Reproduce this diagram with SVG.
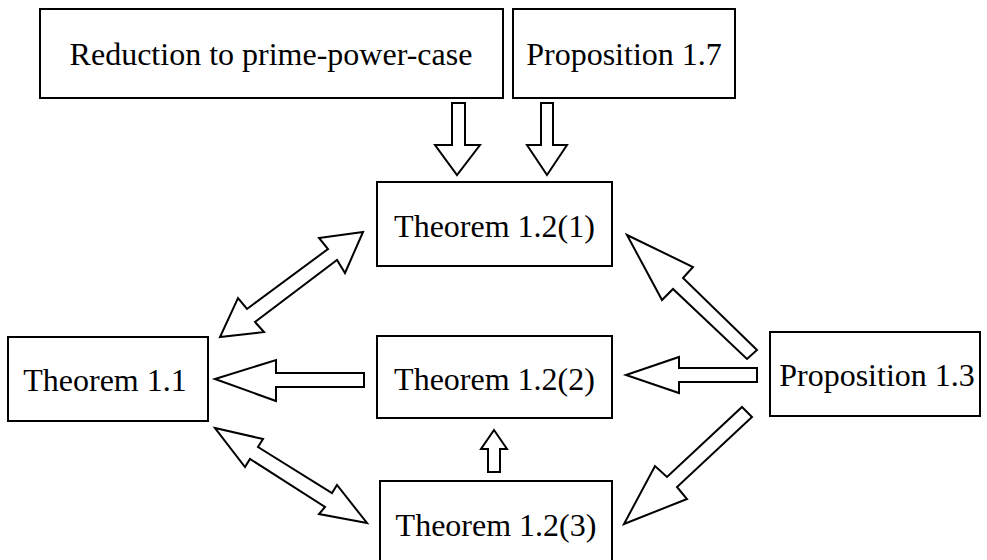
<svg xmlns="http://www.w3.org/2000/svg" width="987" height="560" viewBox="0 0 987 560">
<style>
.box{fill:#fff;stroke:#000;stroke-width:2}
.lbl{font-family:"Liberation Serif","DejaVu Serif",serif;font-size:32px;fill:#000;text-anchor:middle}
.arr{fill:#fff;stroke:#000;stroke-width:2;stroke-linejoin:miter}
</style>
<rect width="987" height="560" fill="#fff"/>
<g id="connectors">
<polygon class="arr" points="452,103 465,103 465,145 480,145 457,175 435,145 452,145"/>
<polygon class="arr" points="541,103 553,103 553,145 567,145 547,175 527,145 541,145"/>
<polygon class="arr" points="363,232 345,273 337,260 255,322 264,332 220,337 238,298 247,309 328,249 319,238"/>
<polygon class="arr" points="215,379 276,360 276,373 364,373 364,387 276,387 276,401"/>
<polygon class="arr" points="215,428 263,439 258,447 332,493 337,485 367,523 319,514 325,507 250,459 245,467"/>
<polygon class="arr" points="627,235 693,267 683,278 757,350 747,359 673,289 662,300"/>
<polygon class="arr" points="626,375 679,357 679,368 757,368 757,382 679,382 679,393"/>
<polygon class="arr" points="742,407 752,417 677,487 687,499 624,524 655,466 667,477"/>
<polygon class="arr" points="494,430 507,449 500,449 500,472 488,472 488,449 481,449"/>
</g>
<g id="reduction"><rect class="box" x="40" y="9" width="463" height="89"/><text class="lbl" x="271" y="65">Reduction to prime-power-case</text></g>
<g id="prop17"><rect class="box" x="513" y="9" width="222" height="89"/><text class="lbl" x="624" y="65">Proposition 1.7</text></g>
<g id="thm121"><rect class="box" x="377" y="182" width="235" height="84"/><text class="lbl" x="494.5" y="237">Theorem 1.2(1)</text></g>
<g id="thm122"><rect class="box" x="377" y="336" width="235" height="82"/><text class="lbl" x="494.5" y="390">Theorem 1.2(2)</text></g>
<g id="thm123"><rect class="box" x="380" y="481" width="232" height="84"/><text class="lbl" x="496" y="536">Theorem 1.2(3)</text></g>
<g id="thm11"><rect class="box" x="8" y="337" width="200" height="84"/><text class="lbl" x="105" y="391">Theorem 1.1</text></g>
<g id="prop13"><rect class="box" x="770" y="332" width="210" height="84"/><text class="lbl" x="877" y="386">Proposition 1.3</text></g>
</svg>
